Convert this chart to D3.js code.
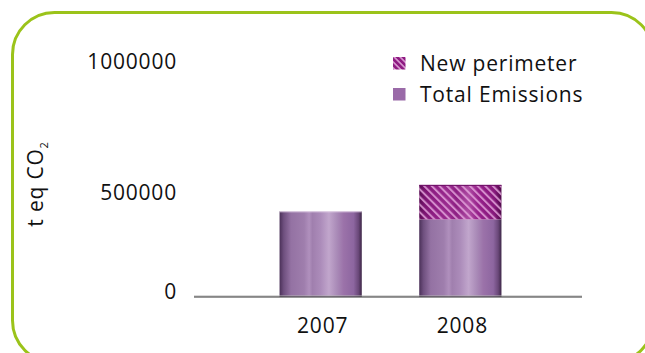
<!DOCTYPE html>
<html>
<head>
<meta charset="utf-8">
<script src="https://cdn.jsdelivr.net/npm/d3@7"></script>
<style>
  html, body { margin: 0; padding: 0; background: #fff; }
  svg { display: block; }
  text { font-family: "Open Sans", sans-serif; fill: #111; letter-spacing: 0.8px; }
</style>
</head>
<body>
<div id="chart"></div>
<script>
// Emissions data (t eq CO2)
const years = ["2007", "2008"];
const totalEmissions = [433000, 392000];
const newPerimeter = [0, 158000];
const yTicks = [0, 500000, 1000000];
const legendLabels = ["New perimeter", "Total Emissions"];

const W = 645, H = 353;
const FS = "21px";
const svg = d3.select("#chart").append("svg")
  .attr("width", W).attr("height", H);

const defs = svg.append("defs");

// cylindrical shading for the purple bars
const purple = defs.append("linearGradient").attr("id", "cylPurple")
  .attr("x1", "0").attr("x2", "1").attr("y1", "0").attr("y2", "0");
[[0, "#4a3058"], [0.05, "#6e4f7e"], [0.14, "#9472a3"], [0.30, "#9f7ead"],
 [0.36, "#b090bd"], [0.40, "#a07fae"], [0.50, "#ac8cba"], [0.60, "#c1a6cc"],
 [0.70, "#a98ab7"], [0.78, "#9b72a9"], [0.90, "#8d66a0"], [0.96, "#6a4879"], [1, "#3d2647"]]
  .forEach(([o, c]) => purple.append("stop").attr("offset", o).attr("stop-color", c));

// cylindrical shading for the magenta extension
const magenta = defs.append("linearGradient").attr("id", "cylMagenta")
  .attr("x1", "0").attr("x2", "1").attr("y1", "0").attr("y2", "0");
[[0, "#560a50"], [0.06, "#7a1470"], [0.18, "#8e1d83"], [0.36, "#9a2c8f"],
 [0.45, "#8c1e82"], [0.60, "#ad4aa2"], [0.72, "#961f8a"], [0.92, "#85177a"], [1, "#4c0847"]]
  .forEach(([o, c]) => magenta.append("stop").attr("offset", o).attr("stop-color", c));

// diagonal hatching
const hatch = defs.append("pattern").attr("id", "hatch")
  .attr("patternUnits", "userSpaceOnUse")
  .attr("width", 5.4).attr("height", 5.4)
  .attr("patternTransform", "rotate(-45)");
hatch.append("rect").attr("x", 0).attr("y", 0).attr("width", 2).attr("height", 5.4)
  .attr("fill", "#e6a9df").attr("fill-opacity", 0.8);

// scales
const x = d3.scaleBand().domain(years).range([197, 584])
  .paddingInner(0.4114).paddingOuter(0.591);
const y = d3.scaleLinear().domain([0, 500000, 1000000]).range([297, 198, 67]);

// frame
svg.append("rect")
  .attr("x", 12.5).attr("y", 12.5).attr("width", 641).attr("height", 350)
  .attr("rx", 42).attr("ry", 42)
  .attr("fill", "none").attr("stroke", "#9bc31a").attr("stroke-width", 3);

// y axis labels
const yAxis = svg.append("g").attr("transform", "translate(177,0)")
  .call(d3.axisLeft(y).tickValues(yTicks).tickSize(0).tickFormat(d3.format("d")));
yAxis.select(".domain").remove();
yAxis.selectAll("text")
  .attr("x", 0).attr("dy", "0.05em")
  .style("font-size", FS).style("font-family", "'Open Sans', sans-serif")
  .attr("fill", "#111");

// y axis title
const yt = svg.append("text")
  .attr("transform", "translate(43,184) rotate(-90)")
  .attr("text-anchor", "middle")
  .style("font-size", FS);
yt.append("tspan").text("t eq CO");
yt.append("tspan").text("2").attr("dy", "5").style("font-size", "11px");

// bars
const bars = svg.append("g");
years.forEach((yr, i) => {
  const x0 = x(yr), bw = x.bandwidth();
  const base = totalEmissions[i];
  bars.append("rect")
    .attr("x", x0).attr("y", y(base))
    .attr("width", bw).attr("height", y(0) - y(base))
    .attr("fill", "url(#cylPurple)");
  if (newPerimeter[i] > 0) {
    const top = base + newPerimeter[i];
    bars.append("rect")
      .attr("x", x0).attr("y", y(top))
      .attr("width", bw).attr("height", y(base) - y(top))
      .attr("fill", "url(#cylMagenta)");
    bars.append("rect")
      .attr("x", x0).attr("y", y(top))
      .attr("width", bw).attr("height", y(base) - y(top))
      .attr("fill", "url(#hatch)");
    bars.append("line")
      .attr("x1", x0).attr("x2", x0 + bw)
      .attr("y1", y(top) + 0.5).attr("y2", y(top) + 0.5)
      .attr("stroke", "#6e0f66").attr("stroke-width", 1);
  } else {
    bars.append("line")
      .attr("x1", x0).attr("x2", x0 + bw)
      .attr("y1", y(base) + 0.5).attr("y2", y(base) + 0.5)
      .attr("stroke", "#e6d6ea").attr("stroke-width", 1);
  }
});

// x axis baseline
svg.append("line").attr("x1", 194).attr("x2", 582)
  .attr("y1", y(0) - 1).attr("y2", y(0) - 1)
  .attr("stroke", "#b5b5b5").attr("stroke-width", 1);
svg.append("line").attr("x1", 194).attr("x2", 582)
  .attr("y1", y(0)).attr("y2", y(0))
  .attr("stroke", "#333").attr("stroke-width", 1.2);

// x axis labels
const xAxis = svg.append("g").attr("transform", `translate(0,${y(0)})`)
  .call(d3.axisBottom(x).tickSize(0));
xAxis.select(".domain").remove();
xAxis.selectAll("text")
  .attr("y", 36).attr("dy", 0).attr("dx", "2")
  .style("font-size", FS).style("font-family", "'Open Sans', sans-serif")
  .attr("fill", "#111");

// legend
const legend = svg.append("g").attr("transform", "translate(393,57)");
const swFills = ["url(#hatchSw)", "#9a6aa8"];
const hatchSw = defs.append("pattern").attr("id", "hatchSw")
  .attr("patternUnits", "userSpaceOnUse")
  .attr("width", 4.2).attr("height", 4.2)
  .attr("patternTransform", "rotate(-45)");
hatchSw.append("rect").attr("width", 4.2).attr("height", 4.2).attr("fill", "#8e1a82");
hatchSw.append("rect").attr("width", 1.6).attr("height", 4.2).attr("fill", "#d99ad2");
legendLabels.forEach((lab, i) => {
  const g = legend.append("g").attr("transform", `translate(0,${i * 31})`);
  g.append("rect").attr("width", 12.5).attr("height", 12.5).attr("fill", swFills[i]);
  g.append("text").attr("x", 27).attr("y", 14).text(lab).style("font-size", FS);
});
</script>
</body>
</html>
